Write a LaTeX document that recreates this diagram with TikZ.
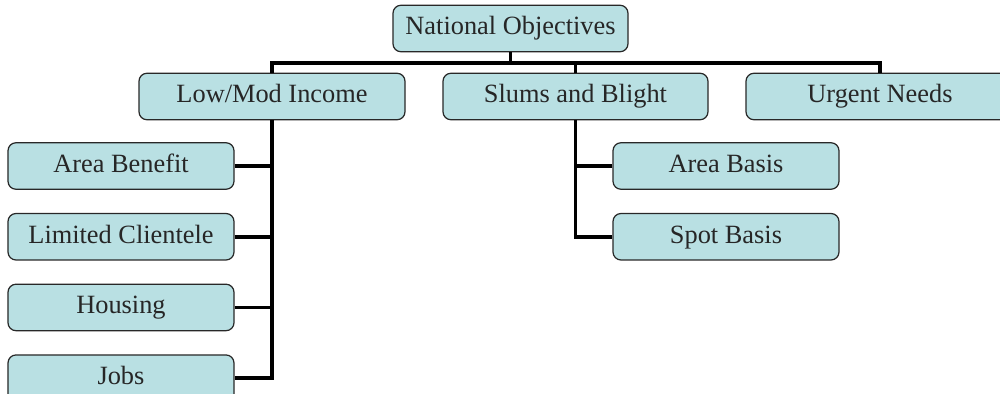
\documentclass[tikz,border=0pt]{standalone}
\usepackage{fontspec}
\setmainfont{Liberation Serif}
\usetikzlibrary{positioning, calc}
\definecolor{boxfill}{RGB}{185,224,227}
\definecolor{boxline}{RGB}{40,40,40}

\begin{document}
\begin{tikzpicture}[objective/.style={rectangle, rounded corners=.16cm, draw=boxline, line width=.7pt, fill=boxfill, text=black!85, align=center, minimum height=.93cm, inner sep=0pt, text height=1.6ex, text depth=0pt, font=\fontsize{15}{18}\selectfont},
link/.style={line width=2.2pt, draw=black}]

\useasboundingbox (0,0) rectangle (20,-7.88);

% OBJECTIVES

\node [objective, minimum width=4.7cm] (nat) at (10.21,-.57) {National Objectives};

\node [objective, minimum width=5.32cm] (low) at (5.44,-1.93) {Low/Mod Income};
\node [objective, minimum width=5.3cm] (slum) at (11.51,-1.93) {Slums and Blight};
\node [objective, minimum width=5.36cm] (urg) at (17.6,-1.93) {Urgent Needs};

% SUB CATEGORIES

\node [objective, minimum width=4.52cm] (ab) at (2.42,-3.32) {Area Benefit};
\node [objective, minimum width=4.52cm, below=.46cm of ab] (lc) {Limited Clientele};
\node [objective, minimum width=4.52cm, below=.46cm of lc] (hs) {Housing};
\node [objective, minimum width=4.52cm, below=.46cm of hs] (jb) {Jobs};

\node [objective, minimum width=4.52cm] (arb) at (14.52,-3.32) {Area Basis};
\node [objective, minimum width=4.52cm, below=.46cm of arb] (spb) {Spot Basis};

% LINKS

\coordinate (bar) at (0,-1.26);

\draw[link] (nat.south) -- (nat.south |- bar);
\draw[link] (low.north) -- (low.north |- bar) -| (urg.north);
\draw[link] (slum.north) -- (slum.north |- bar);

\draw[link] (low.south) |- (jb.east);
\draw[link] (ab.east) -- (ab.east -| low.south);
\draw[link] (lc.east) -- (lc.east -| low.south);
\draw[link] (hs.east) -- (hs.east -| low.south);

\draw[link] (slum.south) |- (spb.west);
\draw[link] (arb.west) -- (arb.west -| slum.south);

\end{tikzpicture}
\end{document}
